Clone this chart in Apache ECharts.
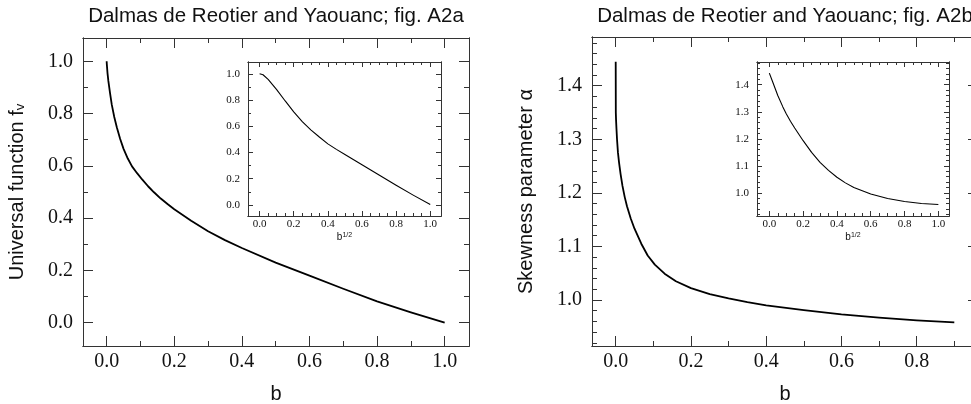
<!DOCTYPE html>
<html><head><meta charset="utf-8">
<script src="https://cdn.jsdelivr.net/npm/echarts@6/dist/echarts.min.js"></script>
<style>html,body{margin:0;padding:0;background:#fff}#c{width:971px;height:404px}</style>
</head><body><div id="c"></div>
<script>
// ---- data ----
const leftB = [0, 0.0004, 0.0025, 0.005, 0.01, 0.015, 0.0225, 0.03, 0.04, 0.05, 0.0625, 0.075, 0.09, 0.105, 0.1225, 0.14, 0.16, 0.18, 0.2, 0.25, 0.3, 0.35, 0.4, 0.5, 0.6, 0.7, 0.8, 0.9, 1.0];
const leftF = [1.0, 0.99, 0.955, 0.925, 0.878, 0.835, 0.787, 0.748, 0.703, 0.665, 0.628, 0.598, 0.572, 0.548, 0.522, 0.499, 0.475, 0.454, 0.434, 0.39, 0.35, 0.316, 0.286, 0.23, 0.18, 0.13, 0.082, 0.04, 0.0];
const leftInsetS = [0, 0.02, 0.05, 0.1, 0.15, 0.2, 0.25, 0.3, 0.35, 0.4, 0.45, 0.5, 0.6, 0.7, 0.8, 0.9, 1.0];
const leftInsetF = [1.0, 0.993, 0.958, 0.88, 0.793, 0.71, 0.635, 0.573, 0.518, 0.466, 0.424, 0.385, 0.307, 0.228, 0.15, 0.075, 0.003];
const rightB = [0, 0.0003, 0.001, 0.002, 0.0035, 0.006, 0.009, 0.013, 0.018, 0.024, 0.03, 0.04, 0.05, 0.068, 0.085, 0.104, 0.13, 0.16, 0.2, 0.25, 0.3, 0.35, 0.4, 0.5, 0.6, 0.7, 0.8, 0.9];
const rightAlpha = [1.445, 1.35, 1.335, 1.32, 1.30, 1.275, 1.256, 1.235, 1.213, 1.192, 1.175, 1.152, 1.133, 1.105, 1.083, 1.066, 1.049, 1.035, 1.022, 1.011, 1.003, 0.996, 0.99, 0.981, 0.973, 0.967, 0.962, 0.958];
const rightInsetS = [0, 0.02, 0.05, 0.08, 0.1, 0.125, 0.15, 0.2, 0.25, 0.3, 0.35, 0.4, 0.45, 0.5, 0.6, 0.7, 0.8, 0.9, 1.0];
const rightInsetAlpha = [1.443, 1.41, 1.36, 1.318, 1.293, 1.265, 1.24, 1.193, 1.15, 1.113, 1.083, 1.058, 1.037, 1.02, 0.996, 0.979, 0.968, 0.961, 0.957];

// ---- tick values ----
const mainXTicksLeft = [0, 0.2, 0.4, 0.6, 0.8, 1.0];
const mainXMinorLeft = [0.1, 0.3, 0.5, 0.7, 0.9];
const mainXTicksRight = [0, 0.2, 0.4, 0.6, 0.8];
const mainXMinorRight = [0.1, 0.3, 0.5, 0.7, 0.9];
const leftYTicks = [0, 0.2, 0.4, 0.6, 0.8, 1.0];
const leftYMinor = [0.1, 0.3, 0.5, 0.7, 0.9];
const rightYTicks = [1.0, 1.1, 1.2, 1.3, 1.4];
const rightYMinor = [0.92, 0.94, 0.96, 0.98, 1.02, 1.04, 1.06, 1.08, 1.12, 1.14, 1.16, 1.18, 1.22, 1.24, 1.26, 1.28, 1.32, 1.34, 1.36, 1.38, 1.42, 1.44, 1.46, 1.48];
const insetXTicks = [0, 0.2, 0.4, 0.6, 0.8, 1.0];
const insetXMinor = [0.05, 0.1, 0.15, 0.25, 0.3, 0.35, 0.45, 0.5, 0.55, 0.65, 0.7, 0.75, 0.85, 0.9, 0.95];
const insetLeftYTicks = [0, 0.2, 0.4, 0.6, 0.8, 1.0];
const insetLeftYMinor = [0.1, 0.3, 0.5, 0.7, 0.9];
const insetRightYTicks = [1.0, 1.1, 1.2, 1.3, 1.4];
const insetRightYMinor = [0.92, 0.94, 0.96, 0.98, 1.02, 1.04, 1.06, 1.08, 1.12, 1.14, 1.16, 1.18, 1.22, 1.24, 1.26, 1.28, 1.32, 1.34, 1.36, 1.38, 1.42, 1.44, 1.46, 1.48];

const AX = '#333';
const TXT = '#111';
const SERIF = '"Liberation Serif","Times New Roman",serif';
const SANS = '"Liberation Sans",Arial,Helvetica,sans-serif';

const OB = {outerBoundsMode: 'none', outerBounds: {left: -400, right: -400, top: -400, bottom: -400}};
const grids = [
  Object.assign({left: 83, top: 38, width: 386, height: 308}, OB),
  Object.assign({left: 248, top: 62, width: 193, height: 154, show: true, backgroundColor: '#fff', borderWidth: 0}, OB),
  Object.assign({left: 592, top: 37, width: 386, height: 309}, OB),
  Object.assign({left: 757, top: 62, width: 192, height: 154, show: true, backgroundColor: '#fff', borderWidth: 0}, OB)
];

const xAxes = [], yAxes = [];
const fmt = v => v.toFixed(1);

function addPanel(c) {
  const xi = xAxes.length, yi = yAxes.length;
  const line = {show: true, onZero: false, lineStyle: {color: AX, width: 1}};
  const mkX = (pos, ticks, len, lbl, extra) => Object.assign({
    type: 'value', gridIndex: c.grid, position: pos, min: c.xr[0], max: c.xr[1],
    splitLine: {show: false}, axisLine: line,
    axisTick: {show: true, inside: true, length: len, customValues: ticks, lineStyle: {color: AX, width: 1}},
    axisLabel: lbl ? {show: true, customValues: ticks, formatter: fmt, fontFamily: SERIF, fontSize: c.fs, color: TXT, margin: c.xm} : {show: false}
  }, extra || {});
  const mkY = (pos, ticks, len, lbl, extra) => Object.assign({
    type: 'value', gridIndex: c.grid, position: pos, min: c.yr[0], max: c.yr[1],
    splitLine: {show: false}, axisLine: line,
    axisTick: {show: true, inside: true, length: len, customValues: ticks, lineStyle: {color: AX, width: 1}},
    axisLabel: lbl ? {show: true, customValues: ticks, formatter: fmt, fontFamily: SERIF, fontSize: c.fs, color: TXT, margin: c.ym} : {show: false}
  }, extra || {});
  xAxes.push(mkX('bottom', c.xt, c.maj, true, c.xName));
  xAxes.push(mkX('bottom', c.xmin, c.mnr, false));
  xAxes.push(mkX('top', c.xt, c.maj, false));
  xAxes.push(mkX('top', c.xmin, c.mnr, false));
  yAxes.push(mkY('left', c.yt, c.maj, true, c.yName));
  yAxes.push(mkY('left', c.ymin, c.mnr, false));
  yAxes.push(mkY('right', c.yt, c.maj, false));
  yAxes.push(mkY('right', c.ymin, c.mnr, false));
  return {xi, yi};
}

const pLeft = addPanel({grid: 0, xr: [-0.07, 1.072], yr: [-0.089, 1.089],
  xt: mainXTicksLeft, xmin: mainXMinorLeft, yt: leftYTicks, ymin: leftYMinor,
  maj: 10, mnr: 5, fs: 20, xm: 6, ym: 10,
  xName: {name: 'b', nameLocation: 'middle', nameGap: 38, nameTextStyle: {fontFamily: SANS, fontSize: 20, color: TXT}},
  yName: {name: 'Universal function f{sub|v}', nameLocation: 'middle', nameGap: 56,
    nameTextStyle: {fontFamily: SANS, fontSize: 20, color: TXT, rich: {sub: {fontFamily: SANS, fontSize: 13, verticalAlign: 'bottom', color: TXT}}}}
});
const pLeftIn = addPanel({grid: 1, xr: [-0.068, 1.063], yr: [-0.084, 1.09],
  xt: insetXTicks, xmin: insetXMinor, yt: insetLeftYTicks, ymin: insetLeftYMinor,
  maj: 5, mnr: 3, fs: 11, xm: 3, ym: 8,
  xName: {name: 'b{sup|1/2}', nameLocation: 'middle', nameGap: 16, nameTextStyle: {fontFamily: SANS, fontSize: 10, color: TXT, rich: {sup: {fontFamily: SANS, fontSize: 7, verticalAlign: 'top', color: TXT}}}}
});
const pRight = addPanel({grid: 2, xr: [-0.063, 0.963], yr: [0.914, 1.491],
  xt: mainXTicksRight, xmin: mainXMinorRight, yt: rightYTicks, ymin: rightYMinor,
  maj: 10, mnr: 5, fs: 20, xm: 6, ym: 10,
  xName: {name: 'b', nameLocation: 'middle', nameGap: 38, nameTextStyle: {fontFamily: SANS, fontSize: 20, color: TXT}},
  yName: {name: 'Skewness parameter α', nameLocation: 'middle', nameGap: 56, nameTextStyle: {fontFamily: SANS, fontSize: 20, color: TXT}}
});
const pRightIn = addPanel({grid: 3, xr: [-0.073, 1.063], yr: [0.9145, 1.484],
  xt: insetXTicks, xmin: insetXMinor, yt: insetRightYTicks, ymin: insetRightYMinor,
  maj: 5, mnr: 3, fs: 11, xm: 3, ym: 8,
  xName: {name: 'b{sup|1/2}', nameLocation: 'middle', nameGap: 16, nameTextStyle: {fontFamily: SANS, fontSize: 10, color: TXT, rich: {sup: {fontFamily: SANS, fontSize: 7, verticalAlign: 'top', color: TXT}}}}
});

const zip = (a, b) => a.map((v, i) => [v, b[i]]);
const mkSeries = (p, xs, ys, w) => ({
  type: 'line', xAxisIndex: p.xi, yAxisIndex: p.yi, data: zip(xs, ys),
  showSymbol: false, symbol: 'none', smooth: false, clip: true,
  lineStyle: {color: '#000', width: w, join: 'round'}, animation: false
});

const chartOption = {
  animation: false,
  backgroundColor: '#fff',
  title: [
    {text: 'Dalmas de Reotier and Yaouanc; fig. A2a', left: 271, top: 1, textAlign: 'center',
      textStyle: {fontFamily: SANS, fontSize: 20.5, fontWeight: 'normal', color: TXT}},
    {text: 'Dalmas de Reotier and Yaouanc; fig. A2b', left: 780, top: 1, textAlign: 'center',
      textStyle: {fontFamily: SANS, fontSize: 20.5, fontWeight: 'normal', color: TXT}}
  ],
  grid: grids,
  xAxis: xAxes,
  yAxis: yAxes,
  series: [
    mkSeries(pLeft, leftB, leftF, 1.8),
    mkSeries(pLeftIn, leftInsetS, leftInsetF, 1.1),
    mkSeries(pRight, rightB, rightAlpha, 1.8),
    mkSeries(pRightIn, rightInsetS, rightInsetAlpha, 1.1)
  ]
};
const chart = echarts.init(document.getElementById('c'));
chart.setOption(chartOption);
</script>
</body></html>
